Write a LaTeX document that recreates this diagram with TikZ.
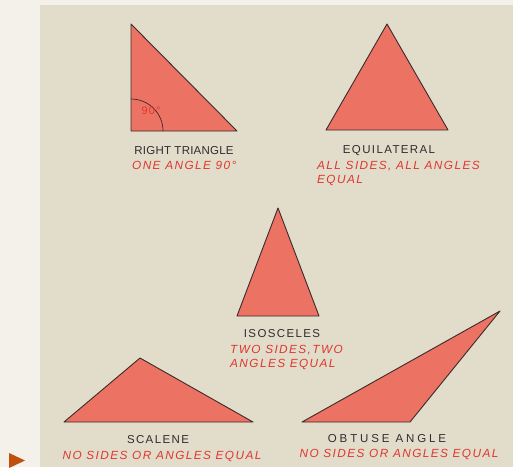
\documentclass[tikz,border=0pt]{standalone}
\usepackage{fontspec}
\setmainfont{Liberation Sans}
\newfontfamily\letterfont{Liberation Sans}
\usetikzlibrary{positioning}
\definecolor{cpage}{HTML}{F4F0EA}
\definecolor{cpanel}{HTML}{E2DCCA}
\definecolor{csalmon}{HTML}{EC7363}
\definecolor{cedge}{HTML}{3B2A2A}
\definecolor{cred}{HTML}{E0362F}
\definecolor{cink}{HTML}{2E2E2E}
\definecolor{cmark}{HTML}{C0500E}
\tikzset{
  every picture/.style={x=1pt, y=-1pt},
  tri/.style={fill=csalmon, draw=cedge, line width=0.9pt, line join=round},
  tritext/.style={font=\letterfont\addfontfeature{LetterSpace=#1}\fontsize{11.5}{13}\selectfont, text=cink, inner sep=0pt},
  tritext/.default=12,
  trinote/.style={font=\letterfont\addfontfeature{LetterSpace=12}\fontsize{11.8}{14}\selectfont\itshape, text=cred, align=left, inner sep=0pt},
}
\begin{document}
\begin{tikzpicture}
  \useasboundingbox (0,0) rectangle (513,467);
  \fill[cpage] (0,0) rectangle (513,467);
  \fill[cpanel] (40,5) rectangle (513,467);
  \fill[cmark] (9,453) -- (25,460.5) -- (9,468) -- cycle;
  % right triangle
  \draw[tri] (131,24) -- (131,131) -- (237,131) -- cycle;
  \draw[cedge, line width=0.7pt] (163,131) arc[start angle=0, end angle=-90, radius=32];
  \node[text=cred, font=\letterfont\addfontfeature{LetterSpace=10}\fontsize{11}{12}\selectfont, inner sep=0pt] (rightdeg) at (151,111) {90°};
  \node[tritext=2] (rightname) at (184,151) {RIGHT TRIANGLE};
  \node[trinote, anchor=west] (rightnote) at (132,165) {ONE ANGLE 90°};
  % equilateral
  \draw[tri] (387,24) -- (326,130) -- (448,130) -- cycle;
  \node[tritext] (equiname) at (389,151) {EQUILATERAL};
  \node[trinote, anchor=north west] (equinote) at (317,161) {ALL SIDES, ALL ANGLES\\EQUAL};
  % isosceles
  \draw[tri] (278,208) -- (237,316) -- (319,316) -- cycle;
  \node[tritext] (isoname) at (282,334) {ISOSCELES};
  \node[trinote, anchor=north west] (isonote) at (230,345) {TWO SIDES,TWO\\ANGLES EQUAL};
  % scalene
  \draw[tri] (140,358) -- (64,422) -- (253,422) -- cycle;
  \node[tritext] (scalname) at (158,440) {SCALENE};
  \node[trinote] (scalnote) at (162,456) {NO SIDES OR ANGLES EQUAL};
  % obtuse
  \draw[tri] (500,311) -- (302,422) -- (410,422) -- cycle;
  \node[tritext=25] (obtname) at (387,439) {OBTUSE ANGLE};
  \node[trinote] (obtnote) at (399,454) {NO SIDES OR ANGLES EQUAL};
\end{tikzpicture}
\end{document}
